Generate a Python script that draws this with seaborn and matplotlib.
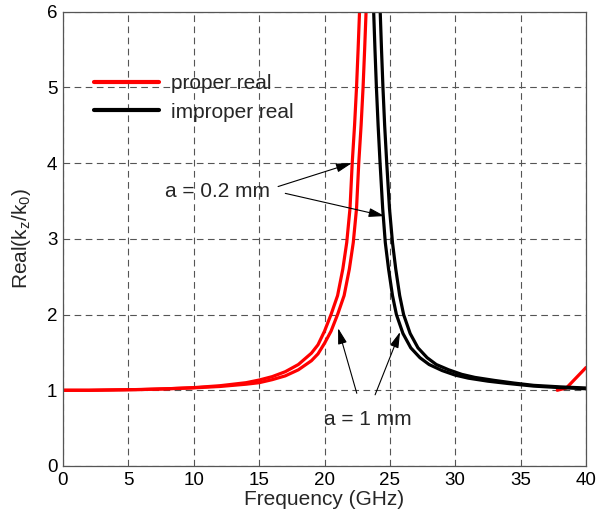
import matplotlib
matplotlib.use("Agg")
import matplotlib.pyplot as plt
import numpy as np
import pandas as pd
import seaborn as sns
from matplotlib.lines import Line2D

# ---- data ----
proper_a02_f = [0, 2, 4, 6, 8, 10, 12, 13, 14, 15, 16, 17, 18, 19, 19.5, 20, 20.5,
                21.0, 21.4, 21.7, 21.95, 22.12, 22.3, 22.45, 22.57, 22.68, 22.72]
proper_a02_v = [1.0, 1.0, 1.005, 1.01, 1.02, 1.035, 1.06, 1.08, 1.10, 1.135, 1.18, 1.245,
                1.34, 1.49, 1.6, 1.78, 2.0, 2.25, 2.6, 2.95, 3.4, 4.0, 4.5, 5.0, 5.5, 6.0, 6.3]

proper_a1_f = [0, 2, 4, 6, 8, 10, 12, 13, 14, 15, 16, 17, 18, 19, 19.5, 20, 20.5,
               21.0, 21.5, 21.9, 22.2, 22.45, 22.62, 22.8, 22.95, 23.07, 23.18, 23.22]
proper_a1_v = [1.0, 1.0, 1.005, 1.01, 1.02, 1.032, 1.05, 1.065, 1.08, 1.10, 1.14, 1.19,
               1.27, 1.39, 1.48, 1.62, 1.78, 2.0, 2.25, 2.6, 2.95, 3.4, 4.0, 4.5, 5.0, 5.5, 6.0, 6.3]

proper_tail_f = [37.8, 38.5, 40.0]
proper_tail_v = [1.0, 1.03, 1.3]

improper_a1_f = [23.72, 23.76, 23.86, 23.97, 24.1, 24.25, 24.45, 24.65, 24.9, 25.2, 25.5,
                 26.0, 26.6, 27.3, 28.0, 29.0, 30.0, 31.0, 32.5, 34.0, 36.0, 38.0, 40.0]
improper_a1_v = [6.3, 6.0, 5.5, 5.0, 4.5, 4.0, 3.4, 2.95, 2.6, 2.25, 2.0,
                 1.75, 1.56, 1.43, 1.34, 1.26, 1.2, 1.16, 1.12, 1.09, 1.055, 1.035, 1.02]

improper_a02_f = [24.22, 24.26, 24.36, 24.47, 24.6, 24.76, 24.97, 25.2, 25.45, 25.75, 26.05,
                  26.55, 27.15, 27.85, 28.55, 29.5, 30.5, 31.5, 33.0, 34.5, 36.0, 38.0, 40.0]
improper_a02_v = [6.3, 6.0, 5.5, 5.0, 4.5, 4.0, 3.4, 2.95, 2.6, 2.25, 2.0,
                  1.75, 1.56, 1.43, 1.34, 1.27, 1.21, 1.17, 1.13, 1.095, 1.065, 1.045, 1.03]

series_names = ["proper real", "improper real"]
x_ticks = [0, 5, 10, 15, 20, 25, 30, 35, 40]
y_ticks = [0, 1, 2, 3, 4, 5, 6]

# ---- build long-form table ----
segs = [
    ("proper real", "p_tail", proper_tail_f, proper_tail_v),
    ("proper real", "p_02", proper_a02_f, proper_a02_v),
    ("proper real", "p_1", proper_a1_f, proper_a1_v),
    ("improper real", "i_1", improper_a1_f, improper_a1_v),
    ("improper real", "i_02", improper_a02_f, improper_a02_v),
]
rows = []
for kind, seg, fs, vs in segs:
    for f, v in zip(fs, vs):
        rows.append({"f": f, "v": v, "kind": kind, "seg": seg})
df = pd.DataFrame(rows)

sns.set_style("white")
plt.rcParams["font.family"] = ["Liberation Sans", "DejaVu Sans"]
plt.rcParams["mathtext.fontset"] = "custom"
plt.rcParams["mathtext.rm"] = "Liberation Sans"
plt.rcParams["mathtext.it"] = "Liberation Sans"

fig = plt.figure(figsize=(5.96, 5.14), dpi=100)
ax = fig.add_axes([63 / 596, 1 - 466 / 514, 523 / 596, 454.4 / 514])

palette = {"proper real": "#ff0000", "improper real": "#000000"}
sns.lineplot(data=df, x="f", y="v", hue="kind", hue_order=series_names, units="seg",
             estimator=None, sort=False, palette=palette, lw=2.3, legend=False, ax=ax)

ax.set_xlim(0, 40)
ax.set_ylim(0, 6)
ax.set_xticks(x_ticks)
ax.set_yticks(y_ticks)
ax.grid(True, linestyle=(0, (6, 4)), color="#555555", lw=0.8)
ax.set_axisbelow(True)
for s in ax.spines.values():
    s.set_color("#555555")
    s.set_linewidth(0.9)
ax.tick_params(direction="in", length=4, labelsize=13.5, colors="#555555",
               labelcolor="black", pad=4)

ax.set_xlabel("Frequency (GHz)", fontsize=15, labelpad=1)
ax.set_ylabel("Real(k$_{\\mathrm{z}}$/k$_{\\mathrm{0}}$)", fontsize=15, labelpad=10)

handles = [Line2D([], [], color=palette[n], lw=3) for n in series_names]
ax.legend(handles, series_names, loc="upper left", bbox_to_anchor=(0.040, 0.885),
          frameon=False, fontsize=15, borderpad=0, handlelength=3.1,
          handletextpad=0.6, labelspacing=0.45)

# annotations
ax.text(11.8, 3.62, "a = 0.2 mm", fontsize=15, ha="center", va="center")
arrow = dict(arrowstyle="-|>,head_length=0.6,head_width=0.17", color="black", lw=0.8,
             mutation_scale=16, shrinkA=0, shrinkB=0)
ax.annotate("", xy=(22.1, 4.0), xytext=(16.45, 3.69), arrowprops=arrow)
ax.annotate("", xy=(24.6, 3.30), xytext=(17.0, 3.6), arrowprops=arrow)

ax.text(23.3, 0.61, "a = 1 mm", fontsize=15, ha="center", va="center")
ax.annotate("", xy=(21.04, 1.82), xytext=(22.47, 0.96), arrowprops=arrow)
ax.annotate("", xy=(25.78, 1.77), xytext=(23.87, 0.94), arrowprops=arrow)

fig.savefig("out.png", dpi=100)
